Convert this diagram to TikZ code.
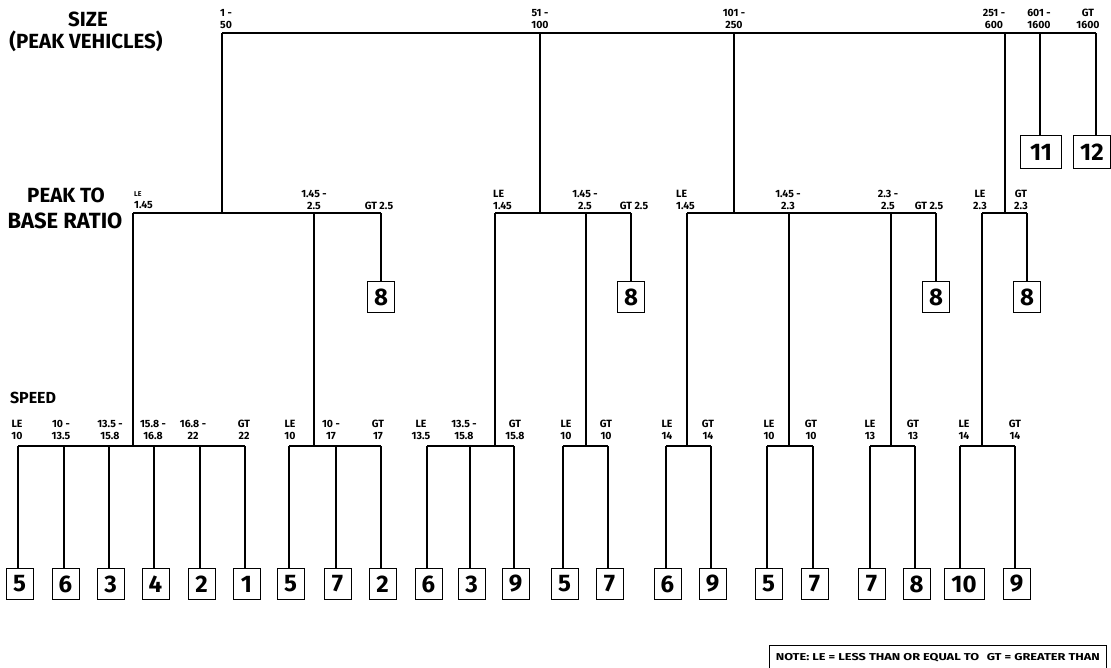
\documentclass[tikz,border=0pt]{standalone}
\usepackage{fontspec}
\usepackage{graphicx}
\setmainfont{Fira Sans}
\begin{document}
\begin{tikzpicture}[x=1pt,y=-1pt,
  bar/.style={line width=1.8pt},
  leaf/.style={draw,line width=1pt,minimum width=27pt,minimum height=31pt,inner sep=0pt,
    font=\fontsize{24}{24}\selectfont\bfseries,anchor=north},
  wideleaf/.style={leaf,minimum width=40pt,minimum height=33pt},
  lbl/.style={font=\fontsize{10.5}{11.5}\selectfont\bfseries,align=center,inner sep=0pt},
  rowtitle/.style={font=\fontsize{20.5}{22}\selectfont\bfseries,inner sep=0pt},
  notebox/.style={draw,line width=0.8pt,minimum width=337pt,minimum height=25pt,anchor=north west,
    inner sep=0pt,font=\fontsize{10}{11}\selectfont\bfseries}]
\useasboundingbox (0,0) rectangle (1111,667);

% row titles
\node[rowtitle] (tSize) at (88,19) {SIZE};
\node[rowtitle] (tPeakVeh) at (86,41) {(PEAK VEHICLES)};
\node[rowtitle] (tPeak) at (66,195) {PEAK TO};
\node[rowtitle,font=\fontsize{22}{24}\selectfont\bfseries] (tBase) at (65,221) {BASE RATIO};
\node[rowtitle,font=\fontsize{16}{18}\selectfont\bfseries] (tSpeed) at (33,398) {SPEED};

% ---------- size level ----------
\coordinate (t0) at (222,33);
\coordinate (t1) at (540,33);
\coordinate (t2) at (734,33);
\coordinate (t3) at (1005,33);
\coordinate (t4) at (1040,33);
\coordinate (t5) at (1096,33);
\draw[bar] (t0) -- (t5);
\node[lbl,align=left,anchor=west] (lt0) at (220,19) {1 -\\50};
\node[lbl] (lt1) at (540,19) {51 -\\100};
\node[lbl] (lt2) at (734,19) {101 -\\250};
\node[lbl] (lt3) at (994,19) {251 -\\600};
\node[lbl] (lt4) at (1039,19) {601 -\\1600};
\node[lbl] (lt5) at (1088,19) {GT\\1600};

\node[wideleaf,minimum width=41pt] (b11) at (1041,135) {11};
\node[wideleaf,minimum width=37pt] (b12) at (1092,135) {12};
\draw[bar] (t4) -- (t4 |- b11.north);
\draw[bar] (t5) -- (t5 |- b12.north);

% ---------- peak to base level ----------
\coordinate (p1a) at (133,213);
\coordinate (p1b) at (314,213);
\coordinate (p1c) at (381,213);
\coordinate (p2a) at (495,213);
\coordinate (p2b) at (586,213);
\coordinate (p2c) at (631,213);
\coordinate (p3a) at (687,213);
\coordinate (p3b) at (789,213);
\coordinate (p3c) at (891,213);
\coordinate (p3d) at (936,213);
\coordinate (p4a) at (982,213);
\coordinate (p4b) at (1027,213);
\draw[bar] (p1a) -- (p1c);
\draw[bar] (p2a) -- (p2c);
\draw[bar] (p3a) -- (p3d);
\draw[bar] (p4a) -- (p4b);
\draw[bar] (t0) -- (t0 |- p1a);
\draw[bar] (t1) -- (t1 |- p2a);
\draw[bar] (t2) -- (t2 |- p3a);
\draw[bar] (t3) -- (t3 |- p4a);

\node[lbl,align=left,anchor=west] (lp1a) at (134,200) {{\fontsize{7}{7}\selectfont LE}\\1.45};
\node[lbl] (lp1b) at (314,200) {1.45 -\\2.5};
\node[lbl] (lp1c) at (379,206) {GT 2.5};
\node[lbl,align=left,anchor=west] (lp2a) at (493,200) {LE\\1.45};
\node[lbl] (lp2b) at (585,200) {1.45 -\\2.5};
\node[lbl] (lp2c) at (634,206) {GT 2.5};
\node[lbl,align=left,anchor=west] (lp3a) at (676,200) {LE\\1.45};
\node[lbl] (lp3b) at (788,200) {1.45 -\\2.3};
\node[lbl] (lp3c) at (888,200) {2.3 -\\2.5};
\node[lbl] (lp3d) at (929,206) {GT 2.5};
\node[lbl] (lp4a) at (980,200) {LE\\2.3};
\node[lbl] (lp4b) at (1021,200) {GT\\2.3};

\node[leaf] (e1) at (381,281) {8};
\node[leaf] (e2) at (631,281) {8};
\node[leaf] (e3) at (936,281) {8};
\node[leaf] (e4) at (1027,281) {8};
\draw[bar] (p1c) -- (e1.north);
\draw[bar] (p2c) -- (e2.north);
\draw[bar] (p3d) -- (e3.north);
\draw[bar] (p4b) -- (e4.north);

% ---------- speed level ----------
% group 1
\foreach \n/\x in {1/18,2/64,3/109,4/154,5/200,6/245}{\coordinate (sa\n) at (\x,446);}
\draw[bar] (sa1) -- (sa6);
\draw[bar] (p1a) -- (p1a |- sa1);
\node[lbl] (la1) at (17,430) {LE\\10};
\node[lbl] (la2) at (61,430) {10 -\\13.5};
\node[lbl] (la3) at (110,430) {13.5 -\\15.8};
\node[lbl] (la4) at (153,430) {15.8 -\\16.8};
\node[lbl] (la5) at (193,430) {16.8 -\\22};
\node[lbl] (la6) at (244,430) {GT\\22};
% group 2
\foreach \n/\x in {1/289,2/336,3/381}{\coordinate (sb\n) at (\x,446);}
\draw[bar] (sb1) -- (sb3);
\draw[bar] (p1b) -- (p1b |- sb1);
\node[lbl] (lb1) at (290,430) {LE\\10};
\node[lbl] (lb2) at (331,430) {10 -\\17};
\node[lbl] (lb3) at (378,430) {GT\\17};
% group 3
\foreach \n/\x in {1/427,2/470,3/514}{\coordinate (sc\n) at (\x,446);}
\draw[bar] (sc1) -- (sc3);
\draw[bar] (p2a) -- (p2a |- sc1);
\node[lbl] (lc1) at (421,430) {LE\\13.5};
\node[lbl] (lc2) at (464,430) {13.5 -\\15.8};
\node[lbl] (lc3) at (515,430) {GT\\15.8};
% group 4
\foreach \n/\x in {1/563,2/608}{\coordinate (sd\n) at (\x,446);}
\draw[bar] (sd1) -- (sd2);
\draw[bar] (p2b) -- (p2b |- sd1);
\node[lbl] (ld1) at (566,430) {LE\\10};
\node[lbl] (ld2) at (606,430) {GT\\10};
% group 5
\foreach \n/\x in {1/666,2/711}{\coordinate (se\n) at (\x,446);}
\draw[bar] (se1) -- (se2);
\draw[bar] (p3a) -- (p3a |- se1);
\node[lbl] (le1) at (667,430) {LE\\14};
\node[lbl] (le2) at (708,430) {GT\\14};
% group 6
\foreach \n/\x in {1/767,2/813}{\coordinate (sf\n) at (\x,446);}
\draw[bar] (sf1) -- (sf2);
\draw[bar] (p3b) -- (p3b |- sf1);
\node[lbl] (lf1) at (769,430) {LE\\10};
\node[lbl] (lf2) at (811,430) {GT\\10};
% group 7
\foreach \n/\x in {1/870,2/915}{\coordinate (sg\n) at (\x,446);}
\draw[bar] (sg1) -- (sg2);
\draw[bar] (p3c) -- (p3c |- sg1);
\node[lbl] (lg1) at (870,430) {LE\\13};
\node[lbl] (lg2) at (913,430) {GT\\13};
% group 8
\foreach \n/\x in {1/960,2/1015}{\coordinate (sh\n) at (\x,446);}
\draw[bar] (sh1) -- (sh2);
\draw[bar] (p4a) -- (p4a |- sh1);
\node[lbl] (lh1) at (964,430) {LE\\14};
\node[lbl] (lh2) at (1015,430) {GT\\14};

% ---------- leaves ----------
\foreach \s/\n/\v in {a/1/5,a/2/6,a/3/3,a/4/4,a/5/2,a/6/1,
                      b/1/5,b/2/7,b/3/2,
                      c/1/6,c/2/3,c/3/9,
                      d/1/5,d/2/7,
                      e/1/6,e/2/9,
                      f/1/5,f/2/7,
                      g/1/7,g/2/8,
                      h/2/9}{
  \node[leaf] (r\s\n) at ([xshift=1.5pt]s\s\n |- 0,568) {\v};
  \draw[bar] (s\s\n) -- (s\s\n |- r\s\n.north);
}
\node[wideleaf,minimum height=31pt] (rh1) at (964,568) {10};
\draw[bar] (sh1) -- (sh1 |- rh1.north);

% ---------- note ----------
\node[notebox] (note) at (769,645) {\resizebox{324pt}{\height}{NOTE: LE = LESS THAN OR EQUAL TO\hspace{6pt}GT = GREATER THAN}};
\end{tikzpicture}
\end{document}
